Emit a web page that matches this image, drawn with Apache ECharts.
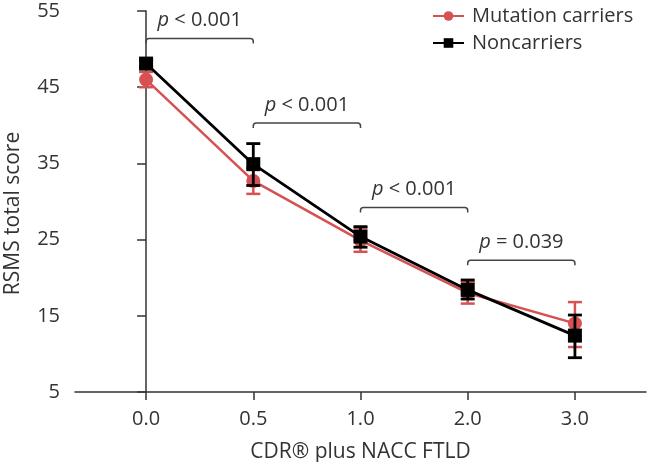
<!DOCTYPE html>
<html><head><meta charset="utf-8">
<script src="https://cdn.jsdelivr.net/npm/echarts@6/dist/echarts.min.js"></script>
<style>html,body{margin:0;padding:0;background:#fff}#c{width:648px;height:462px}</style>
</head><body><div id="c"></div>
<script>
const xLabels = ['0.0', '0.5', '1.0', '2.0', '3.0'];
const xIdx = [0, 1, 2, 3, 4];
const carrierMean = [46.0, 32.7, 24.9, 18.0, 14.0];
const carrierLow = [45.0, 31.0, 23.4, 16.6, 10.9];
const carrierHigh = [47.0, 34.4, 26.5, 19.4, 16.8];
const nonMean = [48.1, 34.9, 25.4, 18.4, 12.4];
const nonLow = [47.6, 32.1, 24.0, 17.2, 9.5];
const nonHigh = [48.6, 37.6, 26.7, 19.7, 15.1];
const bracketFrom = [0, 1, 2, 3];
const bracketTo = [1, 2, 3, 4];
const bracketY = [51.4, 40.3, 29.2, 22.3];
const pText = ['< 0.001', '< 0.001', '< 0.001', '= 0.039'];

const RED = '#d65252';
const FONT = 'Open Sans';
const TXT = '#333';

function errRender(color, width) {
  return function (params, api) {
    const x = api.value(0), lo = api.value(1), hi = api.value(2);
    const pLo = api.coord([x, lo]), pHi = api.coord([x, hi]);
    const h = 7;
    const style = { stroke: color, lineWidth: width };
    return { type: 'group', children: [
      { type: 'line', shape: { x1: pLo[0], y1: pLo[1], x2: pHi[0], y2: pHi[1] }, style },
      { type: 'line', shape: { x1: pLo[0] - h, y1: pLo[1], x2: pLo[0] + h, y2: pLo[1] }, style },
      { type: 'line', shape: { x1: pHi[0] - h, y1: pHi[1], x2: pHi[0] + h, y2: pHi[1] }, style }
    ]};
  };
}

function bracketRender(params, api) {
  const a = api.coord([api.value(0), api.value(2)]);
  const b = api.coord([api.value(1), api.value(2)]);
  const d = 5, r = 3;
  const path = 'M' + a[0] + ' ' + (a[1] + d) + ' L' + a[0] + ' ' + (a[1] + r) +
    ' Q' + a[0] + ' ' + a[1] + ' ' + (a[0] + r) + ' ' + a[1] +
    ' L' + (b[0] - r) + ' ' + b[1] +
    ' Q' + b[0] + ' ' + b[1] + ' ' + b[0] + ' ' + (b[1] + r) +
    ' L' + b[0] + ' ' + (b[1] + d);
  return { type: 'group', children: [
    { type: 'path', shape: { pathData: path }, style: { stroke: '#444', lineWidth: 1.5, fill: null } },
    { type: 'text', x: (a[0] + b[0]) / 2, y: a[1] - 18,
      style: { text: '{i|p} ' + pText[params.dataIndex], fontSize: 20, fontFamily: FONT, fill: TXT,
        align: 'center', verticalAlign: 'middle',
        rich: { i: { fontStyle: 'italic', fontSize: 20, fontFamily: FONT, fill: TXT } } } }
  ]};
}

const chart = echarts.init(document.getElementById('c'), null, { renderer: 'canvas' });
chart.setOption({
  animation: false,
  backgroundColor: '#fff',
  grid: { left: 75, top: 11, right: 2, bottom: 70, containLabel: false, outerBoundsMode: 'none' },
  legend: {
    orient: 'vertical', left: 432, top: 6, padding: 0, itemGap: 7,
    itemWidth: 31, itemHeight: 12,
    textStyle: { fontSize: 20, fontFamily: FONT, color: TXT, lineHeight: 20, padding: [0, 0, 0, 3] },
    data: ['Mutation carriers', 'Noncarriers']
  },
  xAxis: {
    type: 'value', min: -0.663, max: 4.663,
    name: 'CDR® plus NACC FTLD', nameLocation: 'middle', nameGap: 50,
    nameTextStyle: { fontSize: 21, fontFamily: FONT, color: TXT },
    axisLine: { lineStyle: { color: '#333', width: 1.5 } },
    axisTick: { customValues: xIdx, length: 8, lineStyle: { color: '#333', width: 1.5 } },
    axisLabel: { customValues: xIdx, formatter: v => xLabels[Math.round(v)], fontSize: 20, fontFamily: FONT, color: TXT, margin: 17 },
    splitLine: { show: false }
  },
  yAxis: {
    type: 'value', min: 5, max: 55, interval: 10,
    name: 'RSMS total score', nameLocation: 'middle', nameGap: 51,
    nameTextStyle: { fontSize: 21, fontFamily: FONT, color: TXT, padding: [0, 24, 0, 0] },
    axisLine: { show: true, lineStyle: { color: '#333', width: 1.5 } },
    axisTick: { show: true, length: 9, lineStyle: { color: '#333', width: 1.5 } },
    axisLabel: { fontSize: 20, fontFamily: FONT, color: TXT, margin: 15 },
    splitLine: { show: false }
  },
  series: [
    { name: 'Mutation carriers', type: 'line', z: 2,
      data: xIdx.map(i => [i, carrierMean[i]]),
      symbol: 'circle', symbolSize: 14,
      itemStyle: { color: RED }, lineStyle: { color: RED, width: 2.5 } },
    { type: 'custom', z: 3, renderItem: errRender(RED, 2.5),
      data: xIdx.map(i => [i, carrierLow[i], carrierHigh[i]]) },
    { name: 'Noncarriers', type: 'line', z: 4,
      data: xIdx.map(i => [i, nonMean[i]]),
      symbol: 'rect', symbolSize: 14,
      itemStyle: { color: '#000' }, lineStyle: { color: '#000', width: 2.8 } },
    { type: 'custom', z: 5, renderItem: errRender('#000', 2.8),
      data: xIdx.map(i => [i, nonLow[i], nonHigh[i]]) },
    { type: 'custom', z: 6, renderItem: bracketRender,
      data: bracketFrom.map((f, i) => [f, bracketTo[i], bracketY[i]]) }
  ]
});
</script>
</body></html>
